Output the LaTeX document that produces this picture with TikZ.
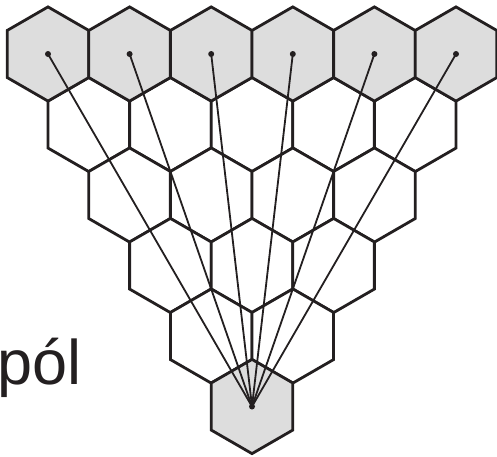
\documentclass[tikz,border=0pt]{standalone}
\usepackage{fontspec}
\setmainfont{Liberation Sans}
\usetikzlibrary{shapes.geometric}
\definecolor{cellgray}{RGB}{221,221,221}
\definecolor{inkblack}{RGB}{35,31,32}

\begin{document}
\begin{tikzpicture}[x=1pt, y=-1pt,
    cell/.style={regular polygon, regular polygon sides=6, shape border rotate=30,
        minimum size=94.2pt, inner sep=0pt, draw=inkblack, line width=2.8pt, fill=white},
    endcell/.style={cell, fill=cellgray},
    ray/.style={draw=inkblack, line width=1.8pt}]
    \useasboundingbox (0,0) rectangle (497,456);
    % --- rows of cells: 6 on top down to 1 at the bottom ---
    \foreach \r in {1,...,4}{
        \pgfmathtruncatemacro\last{5-\r}
        \foreach \k in {0,...,\last}{
            \node[cell] (hex-\r-\k) at ({48+40.8*\r+81.6*\k},{54+70.5*\r}) {};
        }
    }
    % top row (gray)
    \foreach \k in {0,...,5}
        \node[endcell] (hex-0-\k) at ({48+81.6*\k},54) {};
    % bottom cell (gray)
    \node[endcell] (hex-5-0) at (252,406.5) {};
    % --- rays from the top cells to the bottom cell ---
    \foreach \k in {0,...,5}{
        \draw[ray] (hex-0-\k.center) -- (hex-5-0.center);
        \fill[inkblack] (hex-0-\k.center) circle (3pt);
    }
    \fill[inkblack] (hex-5-0.center) circle (3pt);
    % --- label ---
    \node[anchor=base west, inner sep=0pt, text=inkblack,
        font=\fontsize{63}{70}\selectfont] (label) at (-3,384) {pól};
\end{tikzpicture}
\end{document}
